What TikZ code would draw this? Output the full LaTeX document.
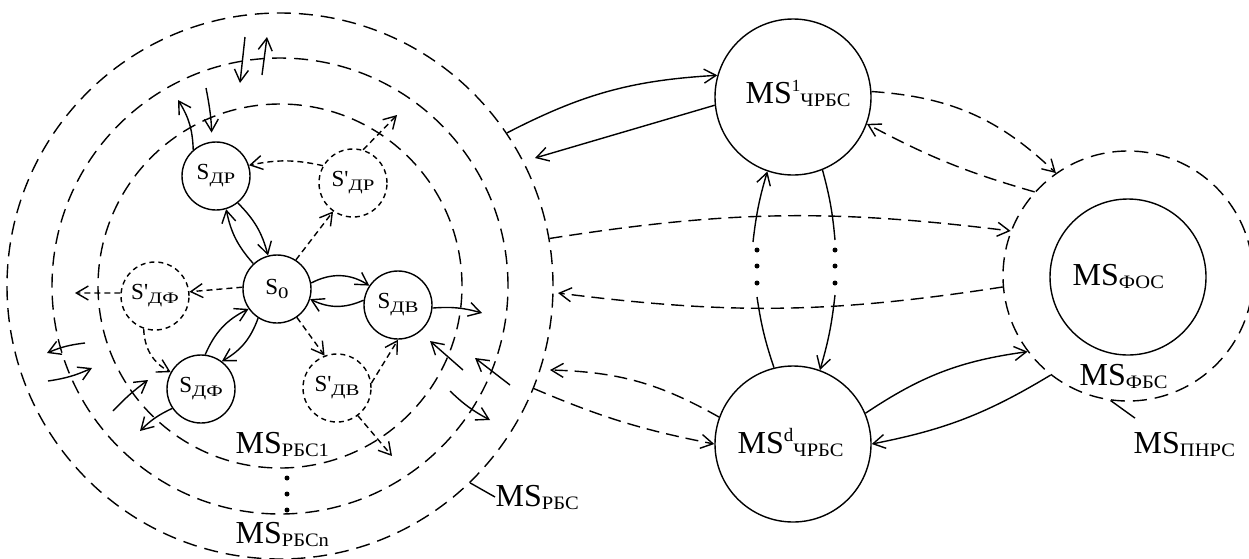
\documentclass[tikz,border=0pt]{standalone}
\usepackage{fontspec}
\usepackage{graphicx}
\setmainfont{Liberation Serif}
\newfontfamily\tnr{Liberation Serif}
\usetikzlibrary{arrows.meta}
\newcommand{\Msub}[1]{\raisebox{-3pt}{\scalebox{1.08}[1]{\fontsize{19}{20}\selectfont #1}}}
\newcommand{\Ssub}[1]{\raisebox{-4pt}{\scalebox{1.3}[1]{\fontsize{16}{18}\selectfont #1}}}
\begin{document}
\begin{tikzpicture}[x=1pt,y=-1pt,line width=1.4pt,
  snode/.style={circle,draw,minimum size=68pt,inner sep=0pt,font=\fontsize{23}{25}\selectfont},
  sdash/.style={snode,dash pattern=on 5pt off 4pt},
  bnode/.style={circle,draw,minimum size=156pt,inner sep=0pt},
  ring/.style={circle,draw,inner sep=0pt,dash pattern=on 14pt off 8pt},
  lbl/.style={inner sep=0pt,font=\fontsize{32}{36}\selectfont},
  arr/.style={-{Straight Barb[length=12pt,width=14pt]}},
  sd/.style={dash pattern=on 6pt off 4pt},
  ld/.style={dash pattern=on 13pt off 7pt},
  dot/.style={circle,fill,inner sep=0pt,minimum size=5pt}]
\useasboundingbox (0,0) rectangle (1249,558);

% concentric rings
\node[ring,minimum size=546pt] (ringO) at (280,286) {};
\node[ring,minimum size=456pt] (ringM) at (280,286) {};
\node[ring,minimum size=364pt] (ringI) at (280,286) {};

% inner nodes
\node[snode] (sdr) at (216,176) {S\Ssub{ДР}};
\node[sdash] (sdrp) at (353,183) {{\tnr S'}\Ssub{ДР}};
\node[snode] (s0) at (277,289) {S\Ssub{0}};
\node[snode] (sdv) at (398,305) {S\Ssub{ДВ}};
\node[sdash] (sdfp) at (155,296) {{\tnr S'}\Ssub{ДФ}};
\node[snode] (sdf) at (201,389) {S\Ssub{ДФ}};
\node[sdash] (sdvp) at (337,388) {{\tnr S'}\Ssub{ДВ}};

% labels of rings
\node[lbl,anchor=base west] (lrbs1) at (235,453) {MS\Msub{РБС1}};
\node[lbl,anchor=base west] (lrbsn) at (235,543) {MS\Msub{РБСn}};
\node[lbl,anchor=base west] (lrbs) at (495,506) {MS\Msub{РБС}};
\node[dot] (c1) at (287,478) {};
\node[dot] (c2) at (287,494) {};
\node[dot] (c3) at (287,510) {};
\draw (ringO.-46) -- (lrbs.west);

% big nodes
\node[bnode] (ms1) at (793,97) {};
\node[lbl,anchor=base west] (tms1) at (745,103) {MS\raisebox{12pt}{\fontsize{17}{17}\selectfont 1}\Msub{ЧРБС}};
\node[bnode] (msd) at (793,444) {};
\node[lbl,anchor=base west] (tmsd) at (737,453) {MS\raisebox{12pt}{\fontsize{19}{19}\selectfont d}\Msub{ЧРБС}};
\node[bnode] (fos) at (1128,277) {};
\node[lbl,anchor=base west] (tfos) at (1072,285) {MS\Msub{ФОС}};
\node[ring,minimum size=250pt] (fbs) at (1128,276) {};
\node[lbl,anchor=base west] (tfbs) at (1079,385) {MS\Msub{ФБС}};
\node[lbl,anchor=base west] (lpnrs) at (1133,453) {MS\Msub{ПНРС}};
\draw (fbs.-98) -- ([xshift=2pt,yshift=13pt]lpnrs.north west);

% free ends
\coordinate (f1) at (178,100);
\coordinate (f2) at (206,88);
\coordinate (t1a) at (245,37);  \coordinate (t1b) at (240,83);
\coordinate (t2a) at (262,75);  \coordinate (t2b) at (267,37);
\coordinate (f3) at (397,115);
\coordinate (f4) at (482,313);
\coordinate (f5a) at (463,370); \coordinate (f5b) at (430,341);
\coordinate (f6a) at (510,385); \coordinate (f6b) at (475,358);
\coordinate (f7a) at (450,391); \coordinate (f7b) at (490,420);
\coordinate (f8) at (392,456);
\coordinate (f9) at (75,293);
\coordinate (f10) at (140,431);
\coordinate (f11a) at (113,411); \coordinate (f11b) at (148,380);
\coordinate (f12a) at (85,343);  \coordinate (f12b) at (47,353);
\coordinate (f13a) at (48,381);  \coordinate (f13b) at (92,368);
\coordinate (f14) at (535,158);
\coordinate (f15) at (558,293);
\coordinate (f16) at (550,370);

% S_DR connectors
\draw[arr] (sdr.-51) to[bend left=15] (s0.105);
\draw[arr] (s0.133) to[bend left=15] (sdr.-73);
\draw[arr] (sdr.131) to[bend right=15] (f1);
\draw[arr,shorten >=9pt] (f2) to[bend left=5] (sdr.97);
\draw[arr] (t1a) -- (t1b);
\draw[arr] (t2a) -- (t2b);
\draw[arr,sd] (sdrp.150) to[bend right=12] (sdr.18);
\draw[arr,sd] (s0.57) -- (sdrp.-125);
\draw[arr,sd] (sdrp.73) -- (f3);

% S_DV connectors
\draw[arr] (s0.10) to[bend left=30] (sdv.146);
\draw[arr] (sdv.172) to[bend left=25] (s0.-17);
\draw[arr] (sdv.-5) to[bend left=10] (f4);
\draw[arr] (f5a) -- (f5b);
\draw[arr] (f6a) -- (f6b);
\draw[arr] (f7a) to[bend right=8] (f7b);
\draw[arr,sd] (s0.-55) -- (sdvp.111);
\draw[arr,sd] (sdvp.8) -- (sdv.-90);
\draw[arr,sd] (sdvp.-53) -- (f8);

% S_DF connectors
\draw[arr,sd] (s0.177) -- (sdfp.7);
\draw[arr,sd] (sdfp.175) -- (f9);
\draw[arr,sd] (sdfp.-109) to[bend right=30] (sdf.151);
\draw[arr] (sdf.83) to[bend left=20] (s0.215);
\draw[arr] (s0.237) to[bend left=20] (sdf.53);
\draw[arr] (sdf.214) to[bend right=10] (f10);
\draw[arr] (f11a) to[bend left=5] (f11b);
\draw[arr] (f12a) to[bend right=8] (f12b);
\draw[arr] (f13a) to[bend right=8] (f13b);

% between the big parts
\draw[arr] (ringO.34.5) to[bend left=12] (ms1.164.5);
\draw[arr] (ms1.186) -- (f14);
\draw[arr,ld] (ringO.10) to[bend left=8] (fbs.159);
\draw[arr,ld] (fbs.185) to[bend left=8] (f15);
\draw[arr,ld] (ms1.4) to[bend left=20] (fbs.125);
\draw[arr,ld] (fbs.138) to[bend left=6] (ms1.-20);
\draw[arr,ld] (msd.160) to[bend right=14] (f16);
\draw[arr,ld] (ringO.-22.5) to[bend right=6] (msd.180);
\draw[arr] (msd.23) to[bend left=13] (fbs.217);
\draw[arr] (fbs.232) to[bend left=10] (msd.0);

% vertical links with dots
\coordinate (v1) at (757,297); \coordinate (v2) at (753,242);
\coordinate (v3) at (835,240); \coordinate (v4) at (835,295);
\draw (msd.104) to[bend left=5] (v1);
\draw[arr] (v2) to[bend left=5] (ms1.-109);
\draw (ms1.-68) to[bend left=5] (v3);
\draw[arr] (v4) to[bend left=5] (msd.70);
\node[dot] (d1) at (757,250) {};
\node[dot] (d2) at (757,266) {};
\node[dot] (d3) at (757,283) {};
\node[dot] (d4) at (835,250) {};
\node[dot] (d5) at (835,266) {};
\node[dot] (d6) at (835,283) {};
\end{tikzpicture}
\end{document}
